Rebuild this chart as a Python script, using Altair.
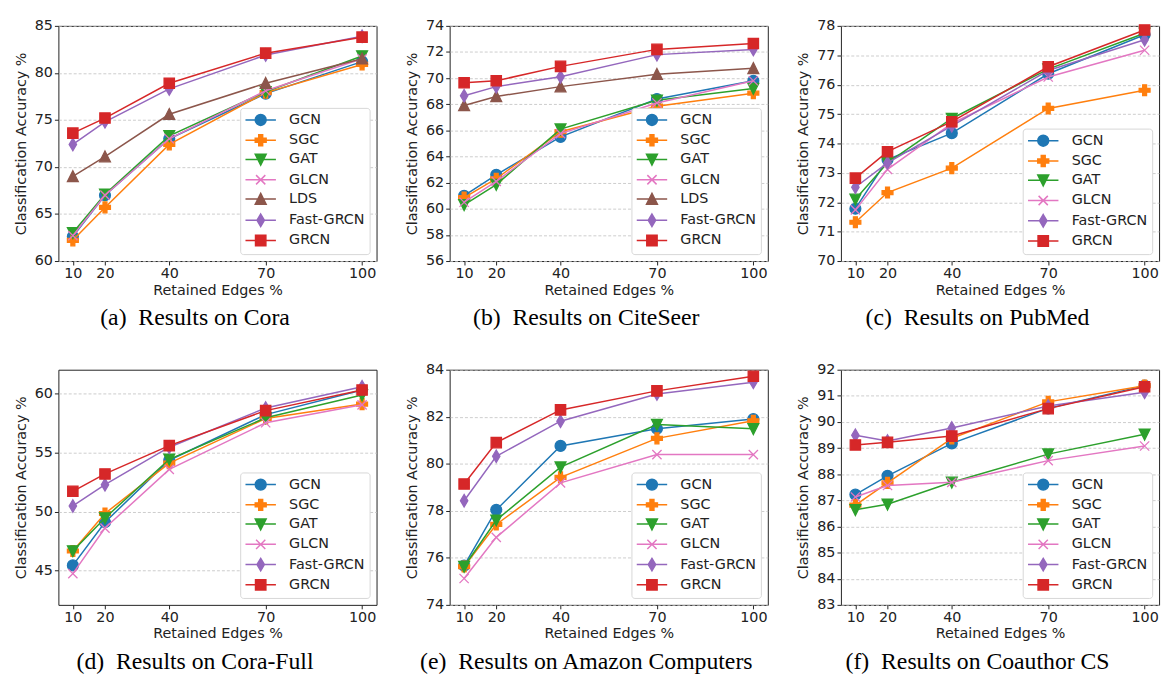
import altair as alt
import pandas as pd

X = [10, 20, 40, 70, 100]
METHODS = ["GCN", "SGC", "GAT", "GLCN", "LDS", "Fast-GRCN", "GRCN"]
COLORS = ["#1f77b4", "#ff7f0e", "#2ca02c", "#e377c2", "#8c564b", "#9467bd", "#d62728"]

# marker shapes (unit coordinates)
MARKERS = {
    "GCN": "M1,0A1,1,0,1,1,-1,0A1,1,0,1,1,1,0Z",
    "SGC": "M-0.36,-1L0.36,-1L0.36,-0.36L1,-0.36L1,0.36L0.36,0.36L0.36,1L-0.36,1L-0.36,0.36L-1,0.36L-1,-0.36L-0.36,-0.36Z",
    "GAT": "M-1,-0.95L1,-0.95L0,1.05Z",
    "GLCN": "M-0.85,-0.85L0.85,0.85M-0.85,0.85L0.85,-0.85",
    "LDS": "M0,-1.05L1,0.95L-1,0.95Z",
    "Fast-GRCN": "M0,-1.15L0.68,0L0,1.15L-0.68,0Z",
    "GRCN": "M-0.95,-0.95L0.95,-0.95L0.95,0.95L-0.95,0.95Z",
}
LEGEND_LINE = "M-2.8,0L2.8,0"

cora = {
    "GCN": [62.6, 67.0, 73.0, 77.8, 81.2],
    "SGC": [62.2, 65.7, 72.4, 77.9, 80.9],
    "GAT": [63.0, 67.1, 73.3, 78.0, 81.8],
    "GLCN": [62.7, 67.0, 73.0, 78.1, 81.5],
    "LDS": [69.0, 71.1, 75.6, 78.9, 81.5],
    "Fast-GRCN": [72.4, 74.8, 78.3, 81.9, 83.9],
    "GRCN": [73.6, 75.2, 78.9, 82.1, 83.8],
}
citeseer = {
    "GCN": [61.0, 62.6, 65.5, 68.4, 69.8],
    "SGC": [60.85, 62.3, 65.9, 67.85, 68.85],
    "GAT": [60.3, 61.85, 66.1, 68.3, 69.2],
    "GLCN": [60.5, 62.1, 65.75, 68.1, 69.8],
    "LDS": [67.9, 68.6, 69.35, 70.3, 70.75],
    "Fast-GRCN": [68.65, 69.35, 70.1, 71.8, 72.2],
    "GRCN": [69.65, 69.8, 70.9, 72.2, 72.65],
}
pubmed = {
    "GCN": [71.78, 73.45, 74.35, 76.37, 77.7],
    "SGC": [71.32, 72.33, 73.16, 75.19, 75.81],
    "GAT": [72.1, 73.34, 74.85, 76.53, 77.75],
    "GLCN": [71.74, 73.12, 74.68, 76.26, 77.17],
    "Fast-GRCN": [72.51, 73.34, 74.6, 76.48, 77.53],
    "GRCN": [72.82, 73.72, 74.74, 76.61, 77.86],
}
corafull = {
    "GCN": [45.44, 49.09, 54.34, 58.2, 60.28],
    "SGC": [46.66, 49.83, 54.1, 57.87, 59.09],
    "GAT": [46.66, 49.45, 54.42, 57.93, 59.86],
    "GLCN": [44.75, 48.6, 53.56, 57.51, 59.03],
    "Fast-GRCN": [50.47, 52.27, 55.44, 58.76, 60.55],
    "GRCN": [51.71, 53.18, 55.58, 58.54, 60.28],
}
amazon = {
    "GCN": [75.67, 78.04, 80.76, 81.49, 81.9],
    "SGC": [75.63, 77.42, 79.42, 81.08, 81.83],
    "GAT": [75.63, 77.6, 79.86, 81.67, 81.49],
    "GLCN": [75.12, 76.87, 79.19, 80.39, 80.39],
    "Fast-GRCN": [78.43, 80.32, 81.81, 82.97, 83.47],
    "GRCN": [79.14, 80.9, 82.29, 83.1, 83.72],
}
coauthor = {
    "GCN": [87.22, 87.94, 89.18, 90.52, 91.39],
    "SGC": [86.82, 87.67, 89.37, 90.77, 91.39],
    "GAT": [86.64, 86.85, 87.69, 88.77, 89.53],
    "GLCN": [87.13, 87.57, 87.69, 88.52, 89.08],
    "Fast-GRCN": [89.49, 89.27, 89.77, 90.61, 91.14],
    "GRCN": [89.12, 89.22, 89.46, 90.51, 91.35],
}

W, H = 322, 238
MSIZE = 121


def panel(data, ydom, yticks, caption):
    methods = [m for m in METHODS if m in data]
    colors = [COLORS[METHODS.index(m)] for m in methods]
    rows = []
    for m in methods:
        for xv, yv in zip(X, data[m]):
            rows.append({"x": xv, "acc": yv, "method": m})
    df = pd.DataFrame(rows)
    xenc = alt.X("x:Q", scale=alt.Scale(domain=[5.5, 104.5], nice=False, zero=False),
                 axis=alt.Axis(values=X, title="Retained Edges %", grid=False, format="d"))
    yenc = alt.Y("acc:Q", scale=alt.Scale(domain=ydom, nice=False, zero=False),
                 axis=alt.Axis(values=yticks, title="Classification Accuracy %", grid=True, format="d"))
    base = alt.Chart(df)
    layers = []
    for m, c in zip(methods, colors):
        sub = base.transform_filter(alt.datum.method == m)
        layers.append(sub.mark_line(strokeWidth=1.5, color=c).encode(x=xenc, y=yenc))
        layers.append(sub.mark_point(size=MSIZE, filled=True, strokeWidth=1.3, opacity=1,
                                     shape=MARKERS[m], fill=c, stroke=c).encode(x=xenc, y=yenc))
    # legend: the only layer that carries colour/shape scales (no data drawn)
    cscale = alt.Scale(domain=methods, range=colors)
    leg = alt.Legend(title=None, orient="bottom-right", offset=7, padding=5,
                     fillColor="white", strokeColor="#d6d6d6", cornerRadius=3,
                     labelFontSize=14.5, labelFont="DejaVu Sans", labelColor="#222",
                     symbolSize=MSIZE, symbolStrokeWidth=1.5, rowPadding=2.5,
                     symbolOffset=8.5, labelOffset=21.5)
    layers.append(base.transform_filter("datum.acc < 0").mark_point(
        size=MSIZE, filled=True, strokeWidth=1.5, opacity=1).encode(
        x=xenc, y=yenc,
        fill=alt.Fill("method:N", scale=cscale, legend=leg),
        stroke=alt.Stroke("method:N", scale=cscale, legend=leg),
        shape=alt.Shape("method:N", scale=alt.Scale(domain=methods, range=[LEGEND_LINE + MARKERS[m] for m in methods]), legend=leg),
    ))
    return alt.layer(*layers).properties(
        width=W, height=H,
        title=alt.TitleParams(caption, orient="bottom", anchor="middle", frame="bounds",
                              font="Liberation Serif", fontSize=24, fontWeight="normal",
                              color="black", offset=10),
    )


pa = panel(cora, [60, 85], [60, 65, 70, 75, 80, 85], "(a)\u00a0 Results on Cora")
pb = panel(citeseer, [56, 74], list(range(56, 75, 2)), "(b)\u00a0 Results on CiteSeer")
pc = panel(pubmed, [70, 78], list(range(70, 79)), "(c)\u00a0 Results on PubMed")
pd_ = panel(corafull, [42.1, 62], [45, 50, 55, 60], "(d)\u00a0 Results on Cora-Full")
pe = panel(amazon, [74, 84], list(range(74, 85, 2)), "(e)\u00a0 Results on Amazon Computers")
pf = panel(coauthor, [83, 92], list(range(83, 93)), "(f)\u00a0 Results on Coauthor CS")

res = dict(fill="independent", stroke="independent", shape="independent")
row1 = alt.hconcat(pa, pb, pc, spacing=27).resolve_scale(**res)
row2 = alt.hconcat(pd_, pe, pf, spacing=27).resolve_scale(**res)

chart = alt.vconcat(row1, row2, spacing=30).resolve_scale(**res).configure_view(
    stroke="#222", strokeWidth=1
).configure_axis(
    labelFont="DejaVu Sans", labelFontSize=14.5, labelColor="#222",
    titleFont="DejaVu Sans", titleFontSize=14.5, titleFontWeight="normal", titleColor="#222",
    domain=False, tickColor="#222", tickSize=4, labelPadding=2,
    gridColor="#c0c0c0", gridDash=[3, 2], gridWidth=0.8,
).configure_axisY(titlePadding=6).configure_axisX(titlePadding=3)

chart.save("out.html", embed_options={"renderer": "svg", "actions": False})
